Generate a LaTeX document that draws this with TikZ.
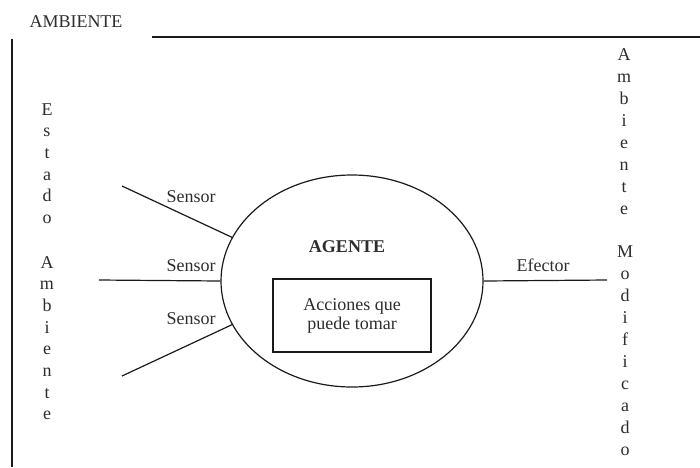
\documentclass[tikz,border=0pt]{standalone}
\usepackage{fontspec}
\setmainfont{Liberation Serif}
\usepackage{tikz}
\usetikzlibrary{shapes.geometric,positioning}
\definecolor{trazo}{HTML}{1A1A1A}
\definecolor{texto}{HTML}{2D2D2D}

\begin{document}
\begin{tikzpicture}[x=0.5pt,y=-0.5pt,
  letra/.style={font=\fontsize{9}{10}\selectfont,text=texto,anchor=base,inner sep=0pt},
  etiqueta/.style={font=\fontsize{9}{9.5}\selectfont,text=texto,inner sep=0pt,align=center}]
\useasboundingbox (0,0) rectangle (700,467);
\node[etiqueta] (ambiente) at (76,22) {AMBIENTE};
\coordinate (marcoA) at (152,37);
\coordinate (marcoB) at (700,37);
\coordinate (marcoC) at (12,39);
\coordinate (marcoD) at (12,467);
\draw[trazo,line width=0.8pt] (marcoA)--(marcoB);
\draw[trazo,line width=0.8pt] (marcoC)--(marcoD);
\foreach \l [count=\i from 0] in {E,s,t,a,d,o}
  \node[letra] (estado\i) at (47,{115+21.7*\i}) {\l};
\foreach \l [count=\i from 0] in {A,m,b,i,e,n,t,e}
  \node[letra] (entrada\i) at (47,{268+21.7*\i}) {\l};
\foreach \l [count=\i from 0] in {A,m,b,i,e,n,t,e}
  \node[letra] (salida\i) at (624,{60+22*\i}) {\l};
\foreach \l [count=\i from 0] in {M,o,d,i,f,i,c,a,d,o}
  \node[letra] (modif\i) at (625,{257+22*\i}) {\l};
\node[draw=trazo,line width=0.6pt,ellipse,minimum width=131pt,minimum height=106pt,inner sep=0pt] (agente) at (352,281) {};
\node[etiqueta,font=\fontsize{9}{10}\selectfont\bfseries] (titulo) at (347,247) {AGENTE};
\node[etiqueta,draw=trazo,line width=0.6pt,minimum width=79pt,minimum height=36.5pt] (acciones) at (352,315.5) {Acciones que\\puede tomar};
\coordinate (s1) at (122,186);
\coordinate (s2) at (99,280);
\coordinate (s3) at (122,376);
\coordinate (e1) at (607,280);
\draw[trazo,line width=0.6pt] (s1)--(agente.160);
\draw[trazo,line width=0.6pt] (s2)--(agente.west);
\draw[trazo,line width=0.6pt] (s3)--(agente.200);
\draw[trazo,line width=0.6pt] (agente.east)--(e1);
\node[etiqueta] (sensor1) at (191,197) {Sensor};
\node[etiqueta] (sensor2) at (191,266) {Sensor};
\node[etiqueta] (sensor3) at (191,319) {Sensor};
\node[etiqueta] (efector) at (543,265) {Efector};
\end{tikzpicture}
\end{document}
